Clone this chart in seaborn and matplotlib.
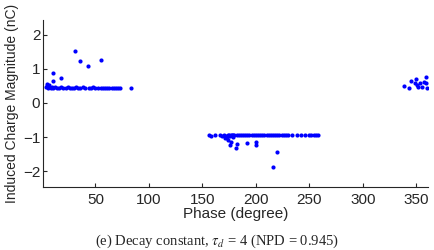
import numpy as np
import pandas as pd
import seaborn as sns
import matplotlib.pyplot as plt

# cluster near 0 deg (positive half cycle)
phase_a = [4, 5, 6, 7, 8, 9, 10, 12, 14, 16, 18, 20, 22, 24, 26, 28, 30, 32, 34,
           36, 38, 40, 44, 46, 48, 50, 52, 55, 57, 59, 61, 63, 65, 67, 69, 71, 73, 83,
           5, 7, 10.7, 10.7, 17.6, 30.4, 36, 43, 55.6]
charge_a = [0.47, 0.50, 0.45, 0.46, 0.44, 0.47, 0.45, 0.46, 0.45, 0.45, 0.46, 0.44, 0.45, 0.46, 0.45, 0.45, 0.45, 0.46, 0.44,
            0.45, 0.46, 0.45, 0.44, 0.45, 0.46, 0.45, 0.44, 0.45, 0.45, 0.44, 0.45, 0.45, 0.44, 0.45, 0.45, 0.45, 0.45, 0.43,
            0.55, 0.52, 0.89, 0.65, 0.74, 1.54, 1.24, 1.08, 1.26]

# cluster near 200 deg (negative half cycle)
phase_b = [156, 158, 162, 166, 168, 170, 172, 174, 175, 176, 177, 178, 179, 180, 182, 184,
           186, 188, 190, 192, 194, 196, 198, 200, 202, 204, 206, 208, 210, 212, 214, 216,
           218, 220, 222, 224, 226, 228, 230, 234, 238, 242, 246, 250, 252, 254, 256, 258,
           171, 173, 174, 176, 177, 179, 181, 182, 192, 200, 200, 220, 216]
charge_b = [-0.95, -0.96, -0.94, -0.95, -0.97, -0.94, -0.96, -0.93, -0.95, -0.97, -0.94, -0.95, -0.93, -0.94, -0.94, -0.93,
            -0.94, -0.93, -0.94, -0.93, -0.94, -0.93, -0.94, -0.93, -0.94, -0.93, -0.94, -0.93, -0.93, -0.94, -0.93, -0.94,
            -0.93, -0.94, -0.93, -0.94, -0.93, -0.93, -0.94, -0.93, -0.93, -0.94, -0.93, -0.93, -0.94, -0.93, -0.93, -0.93,
            -1.02, -1.04, -1.08, -1.24, -1.14, -1.00, -1.31, -1.20, -1.17, -1.14, -1.24, -1.45, -1.89]

# cluster near 350 deg
phase_c = [338.8, 342.8, 345, 349, 350, 351, 352, 353.6, 355, 357.5, 359, 359.3, 359.8]
charge_c = [0.50, 0.43, 0.66, 0.60, 0.71, 0.53, 0.46, 0.58, 0.46, 0.63, 0.76, 0.58, 0.45]

df = pd.DataFrame({"phase": phase_a + phase_b + phase_c,
                   "charge": charge_a + charge_b + charge_c})

sns.set_style("ticks")
plt.rcParams['font.family'] = ['Liberation Sans', 'DejaVu Sans']
plt.rcParams['mathtext.fontset'] = 'stix'

fig = plt.figure(figsize=(4.35, 2.5), dpi=100)
ax = fig.add_axes([0.099, 0.252, 0.885, 0.668])

sns.scatterplot(x="phase", y="charge", data=df, ax=ax, color=(0, 0, 1),
                s=9, linewidth=0, edgecolor=None)

ax.set_xlim(1, 361)
ax.set_ylim(-2.47, 2.44)
ax.set_xticks([50, 100, 150, 200, 250, 300, 350])
ax.set_yticks([-2, -1, 0, 1, 2])
ax.tick_params(direction='in', length=3, width=0.8, labelsize=11, pad=2)
ax.tick_params(axis='x', pad=4)
sns.despine(ax=ax)
ax.set_xlabel("Phase (degree)", fontsize=11, labelpad=0)
ax.set_ylabel("Induced Charge Magnitude (nC)", fontsize=10, labelpad=3)

fig.text(0.5, 0.036, r"(e) Decay constant, $\tau_d$ = 4 (NPD = 0.945)",
         ha='center', va='center', fontsize=10.5, family='Liberation Serif')

fig.savefig("out.png", dpi=100)
